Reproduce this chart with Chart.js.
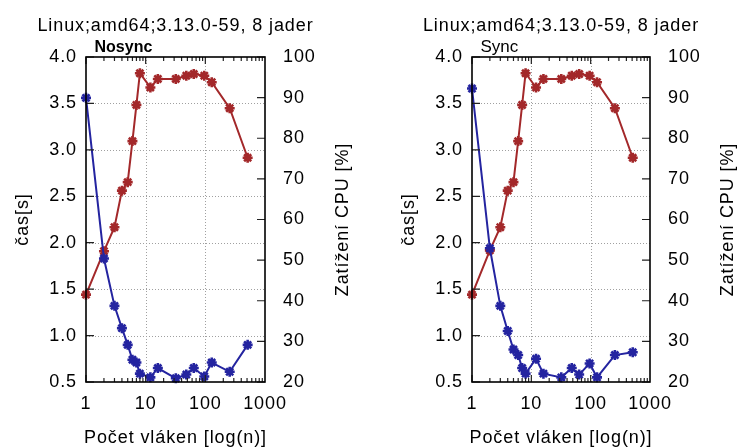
<!DOCTYPE html>
<html><head><meta charset="utf-8">
<script src="https://cdn.jsdelivr.net/npm/chart.js@4/dist/chart.umd.min.js"></script>
<style>
html,body{margin:0;padding:0;background:#fff;overflow:hidden;}
#wrap{position:relative;width:739px;height:448px;}
canvas{position:absolute;top:0;}
</style></head><body>
<div id="wrap">
<canvas id="cA" width="370" height="448" style="left:0"></canvas>
<canvas id="cB" width="353" height="448" style="left:386px"></canvas>
</div>
<script>
// ---- data ----
const threads = [1, 2, 3, 4, 5, 6, 7, 8, 12, 16, 32, 48, 64, 96, 128, 256, 512];
const nosyncTime = [3.56, 1.83, 1.32, 1.08, 0.90, 0.74, 0.71, 0.59, 0.55, 0.65, 0.54, 0.58, 0.65, 0.56, 0.71, 0.61, 0.90];
const nosyncCpu  = [41.5, 52.2, 58.1, 67.1, 69.2, 79.3, 88.2, 96.0, 92.5, 94.6, 94.6, 95.4, 95.8, 95.4, 93.8, 87.4, 75.2];
const syncTime   = [3.66, 1.94, 1.32, 1.05, 0.85, 0.79, 0.65, 0.59, 0.75, 0.59, 0.55, 0.65, 0.58, 0.70, 0.55, 0.79, 0.82];
const syncCpu    = [41.5, 52.4, 58.1, 67.1, 69.2, 79.3, 88.2, 96.0, 92.5, 94.6, 94.6, 95.4, 95.8, 95.4, 93.8, 87.4, 75.2];
const xTicks = [1, 10, 100, 1000];
const timeTicks = [0.5, 1.0, 1.5, 2.0, 2.5, 3.0, 3.5, 4.0];
const cpuTicks = [20, 30, 40, 50, 60, 70, 80, 90, 100];
const chartTitle = 'Linux;amd64;3.13.0-59, 8 jader';
const xTitle = 'Počet vláken [log(n)]';
const yTitle = 'čas[s]';
const y1Title = 'Zatížení CPU [%]';

const FONT = '"Liberation Sans", Arial, sans-serif';
const LS = '0.9px';
const FS = 18;
const BLUE = '#2424a0';
const RED = '#a3282a';

Chart.defaults.font.family = FONT;
Chart.defaults.font.size = FS;
Chart.defaults.color = '#000';

function pts(vals){ return threads.map((t,i)=>({x:t, y:vals[i]})); }
function seg(ctx,x1,y1,x2,y2){ ctx.moveTo(x1,y1); ctx.lineTo(x2,y2); }

function makePlugin(sub, subBold){
  return {
    id:'deco',
    beforeLayout(chart){ chart.ctx.letterSpacing = LS; },
    beforeDraw(chart){ chart.ctx.letterSpacing = LS; },
    beforeDatasetsDraw(chart){
      const {ctx, chartArea:a, scales} = chart;
      const x = scales.x, y = scales.y;
      ctx.save();
      ctx.strokeStyle = '#a0a0a0'; ctx.lineWidth = 1; ctx.setLineDash([1,2]);
      ctx.beginPath();
      xTicks.slice(1,-1).forEach(v=>{ const p = Math.round(x.getPixelForValue(v))+0.5; seg(ctx,p,a.top,p,a.bottom); });
      timeTicks.slice(1,-1).forEach(v=>{ const p = Math.round(y.getPixelForValue(v))+0.5; seg(ctx,a.left,p,a.right,p); });
      ctx.stroke();
      ctx.restore();
    },
    afterDatasetsDraw(chart){
      const {ctx, chartArea:a, scales} = chart;
      const x = scales.x, y = scales.y, y1 = scales.y1;
      ctx.save();
      ctx.strokeStyle = '#222'; ctx.lineWidth = 1.2;
      ctx.beginPath();
      for (let d = xTicks[0]; d < xTicks[xTicks.length-1]; d *= 10) {
        for (let k = 1; k <= 9; k++) {
          const p = x.getPixelForValue(d*k); const L = k === 1 ? 7 : 4;
          seg(ctx,p,a.bottom,p,a.bottom-L); seg(ctx,p,a.top,p,a.top+L);
        }
      }
      timeTicks.forEach(v=>{ const p = y.getPixelForValue(v); seg(ctx,a.left,p,a.left+8,p); });
      cpuTicks.forEach(v=>{ const p = y1.getPixelForValue(v); seg(ctx,a.right,p,a.right-8,p); });
      ctx.stroke();
      ctx.strokeStyle = '#000'; ctx.lineWidth = 1.6;
      ctx.strokeRect(a.left, a.top, a.right-a.left, a.bottom-a.top);
      ctx.restore();
    },
    afterDraw(chart){
      const {ctx, chartArea:a} = chart;
      const cx = (a.left+a.right)/2, cy = (a.top+a.bottom)/2;
      ctx.save();
      ctx.fillStyle = '#000';
      ctx.letterSpacing = LS;
      ctx.font = FS + 'px ' + FONT;
      ctx.textAlign = 'center'; ctx.textBaseline = 'alphabetic';
      ctx.fillText(chartTitle, cx, 31);
      ctx.fillText(xTitle, cx, 443);
      ctx.textBaseline = 'middle';
      ctx.save(); ctx.translate(a.left-63, cy); ctx.rotate(-Math.PI/2); ctx.fillText(yTitle, 0, 0); ctx.restore();
      ctx.save(); ctx.translate(a.right+78, cy); ctx.rotate(-Math.PI/2); ctx.fillText(y1Title, 0, 0); ctx.restore();
      ctx.letterSpacing = '0px';
      ctx.font = (subBold ? 'bold 16px ' : '17px ') + FONT;
      ctx.textAlign = 'left'; ctx.textBaseline = 'alphabetic';
      ctx.fillText(sub, a.left+8.5, 52);
      ctx.restore();
    }
  };
}

function makeChart(id, sub, subBold, timeVals, cpuVals, rightW){
  const ds = (vals, color, axis) => ({
    data: pts(vals), yAxisID: axis,
    borderColor: color, backgroundColor: color,
    pointBorderColor: color, pointBackgroundColor: color,
    borderWidth: 2, pointStyle: 'star', pointRadius: 5, pointBorderWidth: 2.6,
    tension: 0, clip: false
  });
  return new Chart(document.getElementById(id), {
    type: 'line',
    data: { datasets: [ ds(timeVals, BLUE, 'y'), ds(cpuVals, RED, 'y1') ] },
    options: {
      responsive: false, animation: false, devicePixelRatio: 1,
      layout: { padding: { top: 57, left: 0, right: 0, bottom: 0 } },
      plugins: { legend: { display: false }, tooltip: { enabled: false }, title: { display: false } },
      scales: {
        x: {
          type: 'logarithmic', min: 1, max: 1000, position: 'bottom',
          grid: { display: false, drawTicks: false }, border: { display: false },
          ticks: { padding: 11, maxRotation: 0, autoSkip: false, callback: v => String(v) },
          afterBuildTicks: s => { s.ticks = xTicks.map(v => ({ value: v })); },
          afterFit: s => { s.height = 66; }
        },
        y: {
          position: 'left', min: 0.5, max: 4.0,
          grid: { display: false, drawTicks: false }, border: { display: false },
          ticks: { padding: 9, callback: v => Number(v).toFixed(1) },
          afterBuildTicks: s => { s.ticks = timeTicks.map(v => ({ value: v })); },
          afterFit: s => { s.width = 86; }
        },
        y1: {
          position: 'right', min: 20, max: 100,
          grid: { display: false, drawTicks: false }, border: { display: false },
          ticks: { padding: 18, callback: v => String(v) },
          afterBuildTicks: s => { s.ticks = cpuTicks.map(v => ({ value: v })); },
          afterFit: s => { s.width = rightW; }
        }
      }
    },
    plugins: [ makePlugin(sub, subBold) ]
  });
}

makeChart('cA', 'Nosync', true, nosyncTime, nosyncCpu, 105);
makeChart('cB', 'Sync', false, syncTime, syncCpu, 89);
</script>
</body></html>
